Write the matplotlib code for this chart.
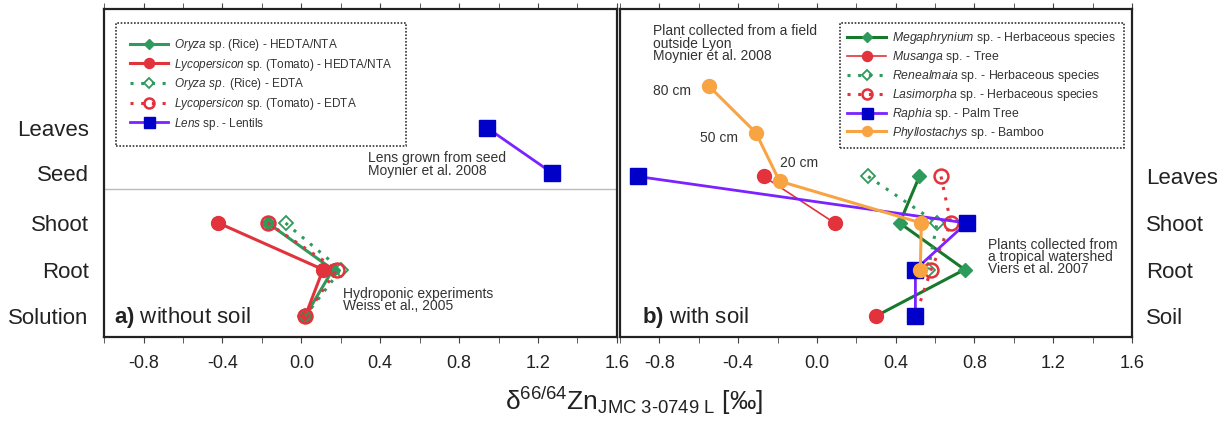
import numpy as np
import matplotlib.pyplot as plt
from matplotlib.ticker import MultipleLocator, FuncFormatter

plt.rcParams['font.family'] = ['Liberation Sans', 'DejaVu Sans']
plt.rcParams['mathtext.fontset'] = 'custom'
plt.rcParams['mathtext.rm'] = 'Liberation Sans'
plt.rcParams['mathtext.it'] = 'Liberation Sans:italic'
plt.rcParams['mathtext.bf'] = 'Liberation Sans:bold'

# a) without soil
organs_a = ['Solution', 'Root', 'Shoot', 'Seed', 'Leaves']
levels_a = [0, 1, 2, 3.08, 4.05]
hydro_organs = ['Shoot', 'Root', 'Solution']
rice_hedta = [-0.17, 0.16, 0.02]
tomato_hedta = [-0.42, 0.11, 0.02]
rice_edta = [-0.08, 0.20, 0.02]
tomato_edta = [-0.17, 0.18, 0.02]
lens_organs = ['Leaves', 'Seed']
lens = [0.94, 1.27]

# b) with soil
organs_b = ['Soil', 'Root', 'Shoot', 'Leaves']
levels_b = [0, 1, 2, 3]
tropical_organs = ['Leaves', 'Shoot', 'Root', 'Soil']
megaphrynium = [0.52, 0.42, 0.75, 0.30]
musanga = [-0.27, 0.09, np.nan, 0.30]
renealmaia = [0.26, 0.61, 0.565, np.nan]
lasimorpha = [0.63, 0.68, 0.58, 0.50]
raphia = [-0.91, 0.76, 0.50, 0.50]
bamboo_labels = ['80 cm', '50 cm', '20 cm', 'Shoot', 'Root']
bamboo_levels = [4.95, 3.94, 2.9, 2, 1]
bamboo = [-0.55, -0.31, -0.19, 0.53, 0.525]

green = '#2e9a5c'
dkgreen = '#17792c'
red = '#e2323c'
blue = '#0000c8'
purple = '#7a22ff'
orange = '#f8a443'
txt = '#333333'
dots = (0, (1, 2.5))

fig = plt.figure(figsize=(12.27, 4.26), dpi=100)
ax1 = fig.add_axes([0.0848, 0.2089, 0.418, 0.77])
ax2 = fig.add_axes([0.5053, 0.2089, 0.4173, 0.77])

ya = dict(zip(organs_a, levels_a))
yh = [ya[o] for o in hydro_organs]
ax1.axhline(2.73, color='#bbbbbb', lw=1)
ax1.plot(rice_hedta, yh, color=green, lw=2.2, marker='D', ms=7, mfc=green, mec=green,
         label=r'$\it{Oryza}$ sp. (Rice) - HEDTA/NTA')
ax1.plot(tomato_hedta, yh, color=red, lw=2.2, marker='o', ms=10, mfc=red, mec=red,
         label=r'$\it{Lycopersicon}$ sp. (Tomato) - HEDTA/NTA')
ax1.plot(rice_edta, yh, color=green, lw=2.2, ls=dots, marker='D', ms=7, mfc='none', mec=green, mew=1.3,
         label=r'$\it{Oryza\ sp.}$ (Rice) - EDTA')
ax1.plot(tomato_edta, yh, color=red, lw=2.2, ls=dots, marker='o', ms=10, mfc='none', mec=red, mew=1.8,
         label=r'$\it{Lycopersicon}$ sp. (Tomato) - EDTA')
ax1.plot(lens, [ya[o] for o in lens_organs], color=purple, lw=2, marker='s', ms=11, mfc=blue, mec=blue,
         label=r'$\it{Lens}$ sp. - Lentils')

yb = dict(zip(organs_b, levels_b))
yt = [yb[o] for o in tropical_organs]
ax2.plot(megaphrynium, yt, color=dkgreen, lw=2.2, marker='D', ms=7, mfc=green, mec=green,
         label=r'$\it{Megaphrynium}$ sp. - Herbaceous species')
ax2.plot(musanga, yt, color=red, lw=1.2, marker='o', ms=10, mfc=red, mec=red,
         label=r'$\it{Musanga}$ sp. - Tree')
ax2.plot(renealmaia, yt, color=green, lw=2.2, ls=dots, marker='D', ms=7, mfc='none', mec=green, mew=1.3,
         label=r'$\it{Renealmaia}$ sp. - Herbaceous species')
ax2.plot(lasimorpha, yt, color=red, lw=2.2, ls=dots, marker='o', ms=10, mfc='none', mec=red, mew=1.8,
         label=r'$\it{Lasimorpha}$ sp. - Herbaceous species')
ax2.plot(raphia, yt, color=purple, lw=2, marker='s', ms=11, mfc=blue, mec=blue,
         label=r'$\it{Raphia}$ sp. - Palm Tree')
ax2.plot(bamboo, bamboo_levels, color=orange, lw=2.2, marker='o', ms=10, mfc=orange, mec=orange,
         label=r'$\it{Phyllostachys}$ sp. - Bamboo')

for lab, x, y in zip(bamboo_labels[:3], bamboo, bamboo_levels):
    if lab == '20 cm':
        ax2.annotate(lab, (x, y), xytext=(0, 13), textcoords='offset points',
                     ha='left', va='center', fontsize=10, color=txt)
    else:
        ax2.annotate(lab, (x, y), xytext=(-13, -3.5), textcoords='offset points',
                     ha='right', va='center', fontsize=10, color=txt)

fmt = FuncFormatter(lambda v, _: f'{round(v, 1) + 0.0:.1f}')
for ax in (ax1, ax2):
    ax.set_xlim(-1.0, 1.6)
    ax.set_ylim(-0.45, 6.6)
    ax.xaxis.set_major_locator(MultipleLocator(0.4))
    ax.xaxis.set_minor_locator(MultipleLocator(0.2))
    ax.xaxis.set_major_formatter(fmt)
    ax.tick_params(axis='x', which='both', direction='out', length=4, top=True,
                   labelsize=13, pad=9, color='#444444', labelcolor='#222222')
    for sp in ax.spines.values():
        sp.set_linewidth(1.6)
        sp.set_color('#222222')

ax1.set_yticks(levels_a, organs_a)
ax1.tick_params(axis='y', length=0, labelsize=16, pad=11, labelcolor='#222222')
ax2.set_yticks(levels_b, organs_b)
ax2.yaxis.tick_right()
ax2.tick_params(axis='y', length=0, labelsize=16, pad=10, labelcolor='#222222')

leg_kw = dict(numpoints=1, handlelength=3.2, handletextpad=0.5,
              markerscale=0.72, fancybox=False, framealpha=1, edgecolor='#333333',
              borderaxespad=0)
leg1 = ax1.legend(loc='upper left', bbox_to_anchor=(0.023, 0.958), borderpad=1.2,
                  fontsize=8.5, labelspacing=0.31, **leg_kw)
leg2 = ax2.legend(loc='upper right', bbox_to_anchor=(0.984, 0.958), borderpad=0.6,
                  fontsize=8.8, labelspacing=0.24, **leg_kw)
for leg in (leg1, leg2):
    leg.get_frame().set_linestyle((0, (1, 1)))
    leg.get_frame().set_linewidth(1.2)
    for t in leg.get_texts():
        t.set_color(txt)

ax1.text(0.34, 3.55, 'Lens grown from seed\nMoynier et al. 2008', fontsize=10,
         va='top', linespacing=0.9, color=txt)
ax1.text(0.21, 0.63, 'Hydroponic experiments\nWeiss et al., 2005', fontsize=10,
         va='top', linespacing=0.86, color=txt)
ax1.text(-0.95, -0.15, r'$\bf{a)}$ without soil', fontsize=16, va='baseline', color='#222222')

ax2.text(-0.83, 6.27, 'Plant collected from a field\noutside Lyon\nMoynier et al. 2008',
         fontsize=10, va='top', linespacing=0.84, color=txt)
ax2.text(0.87, 1.68, 'Plants collected from\na tropical watershed\nViers et al. 2007',
         fontsize=10, va='top', linespacing=0.84, color=txt)
ax2.text(-0.89, -0.14, r'$\bf{b)}$ with soil', fontsize=16, va='baseline', color='#222222')

fig.text(0.517, 0.058, r'$\mathrm{\delta}^{66/64}\mathrm{Zn}_{\mathrm{JMC\ 3‐0749\ L}}$ [‰]',
         ha='center', va='center', fontsize=19, color='#222222')

fig.savefig('out.png', dpi=100)
